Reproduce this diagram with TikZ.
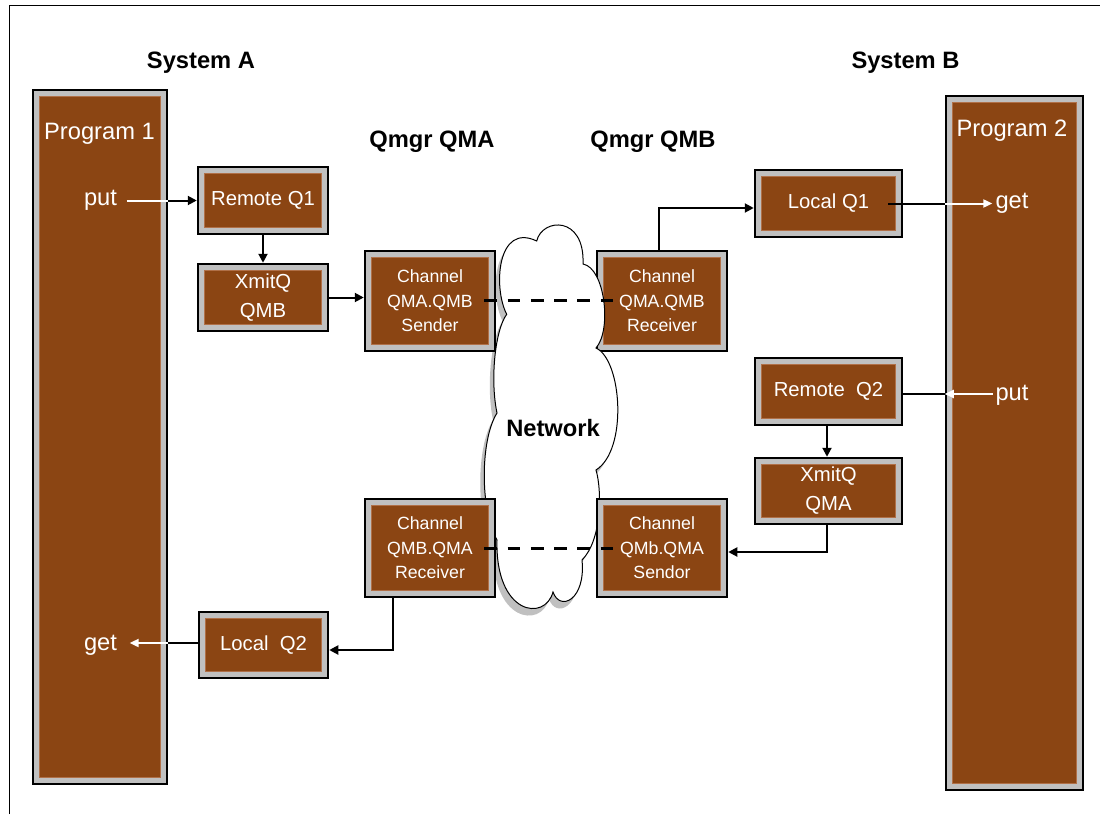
\documentclass[tikz,border=0pt]{standalone}
\usepackage{fontspec}
\setmainfont{Liberation Sans}
\usetikzlibrary{arrows.meta,calc}
\definecolor{qbrown}{RGB}{139,69,19}
\definecolor{qgray}{RGB}{192,192,192}
\definecolor{qedge}{RGB}{176,112,72}
\definecolor{qshadow}{RGB}{192,192,192}
\def\netcloudpath{(506.7,314.3) .. controls (493,288) and (497,222) .. (536.7,241)
 .. controls (542,218) and (585,215) .. (583,264)
 .. controls (605,268) and (612,330) .. (596,348)
 .. controls (622,360) and (628,450) .. (596,470)
 .. controls (602,490) and (602,540) .. (582,560)
 .. controls (586,600) and (560,612) .. (553,592)
 .. controls (545,622) and (495,615) .. (497,540)
 .. controls (480,510) and (480,440) .. (497,413)
 .. controls (490,380) and (495,330) .. (506.7,314.3) -- cycle}
\begin{document}
\begin{tikzpicture}[x=1pt,y=-1pt,
 qbox/.style={draw=black, line width=2.5pt, fill=qgray, inner sep=0pt, text=white, align=center,
   path picture={\draw[qedge, line width=0.8pt, fill=qbrown] ([shift={(6.8pt,6.8pt)}]path picture bounding box.south west) rectangle ([shift={(-6.8pt,-6.8pt)}]path picture bounding box.north east);}},
 lblbig/.style={font=\fontsize{23.7}{28}\selectfont, inner sep=0pt},
 lblbigb/.style={font=\fontsize{23.7}{28}\selectfont\bfseries, inner sep=0pt},
 lblmid/.style={font=\fontsize{20.3}{29}\selectfont},
 lblsmall/.style={font=\fontsize{17.7}{24.5}\selectfont},
 conn/.style={line width=2pt, black},
 arr/.style={conn, -{Triangle[length=9pt,width=9pt]}},
 wline/.style={line width=2pt, white},
 warr/.style={wline, -{Triangle[length=9pt,width=8pt]}},
 dashline/.style={line width=3pt, dash pattern=on 12.7pt off 10.6pt},
]
\useasboundingbox (0,0) rectangle (1100,814);
\fill[white] (0,0) rectangle (1100,814);
\draw[line width=1.2pt] (9.5,814) -- (9.5,5.5) -- (1100,5.5);

% titles
\node[lblbigb, anchor=base] (sysa) at (201,68.5) {System A};
\node[lblbigb, anchor=base] (sysb) at (905.5,68.5) {System B};
\node[lblbigb, anchor=base] (qma) at (432,147.5) {Qmgr QMA};
\node[lblbigb, anchor=base] (qmb) at (653,147.5) {Qmgr QMB};

% program boxes
\node[qbox, minimum width=134pt, minimum height=694pt] (prog1) at (100,437) {};
\node[qbox, minimum width=137pt, minimum height=694pt] (prog2) at (1014.5,443) {};
\node[lblbig, text=white, anchor=base] (p1t) at (99.5,139) {Program 1};
\node[lblbig, text=white, anchor=base] (put1) at (100.5,205) {put};
\node[lblbig, text=white, anchor=base] (get1) at (100.5,650) {get};
\node[lblbig, text=white, anchor=base] (p2t) at (1012,136) {Program 2};
\node[lblbig, text=white, anchor=base] (get2) at (1012,208) {get};
\node[lblbig, text=white, anchor=base] (put2) at (1012,400) {put};

% receiver drawn under the cloud
\node[qbox, lblsmall, minimum width=130pt, minimum height=100pt] (rcv1) at (662,301) {Channel\\QMA.QMB\\Receiver};

% cloud
\fill[qshadow, shift={(-4pt,-7pt)}] \netcloudpath;
\draw[fill=white, line width=1pt] \netcloudpath;
\node[lblbigb] (net) at (553,428) {Network};

% queue boxes
\node[qbox, lblmid, minimum width=130pt, minimum height=67pt] (rq1) at (263,200.5) {Remote Q1};
\node[qbox, lblmid, minimum width=130pt, minimum height=67pt] (xq1) at (263,297.5) {XmitQ\\QMB};
\node[qbox, lblsmall, minimum width=130pt, minimum height=100pt] (snd1) at (430,301) {Channel\\QMA.QMB\\Sender};
\node[qbox, lblmid, minimum width=147pt, minimum height=67pt] (lq1) at (828.5,203.5) {Local Q1};
\node[qbox, lblmid, minimum width=147pt, minimum height=67pt] (rq2) at (828.5,391.5) {Remote\ \ Q2};
\node[qbox, lblmid, minimum width=147pt, minimum height=66pt] (xq2) at (828.5,491) {XmitQ\\QMA};
\node[qbox, lblsmall, minimum width=130pt, minimum height=98pt] (snd2) at (662,548) {Channel\\QMb.QMA\\Sendor};
\node[qbox, lblsmall, minimum width=130pt, minimum height=98pt] (rcv2) at (430,548) {Channel\\QMB.QMA\\Receiver};
\node[qbox, lblmid, minimum width=129pt, minimum height=66pt] (lq2) at (263.5,645) {Local\ \ Q2};

% System A connectors
\coordinate (a0) at (prog1.east |- rq1.west);
\draw[wline] ([xshift=9.5pt]put1.east |- rq1.west) -- (a0);
\draw[arr] (a0) -- (rq1.west);
\draw[arr] (rq1.south) -- (xq1.north);
\draw[arr] (xq1.east) -- (xq1.east -| snd1.west);
\draw[arr] ([xshift=-37pt]rcv2.south) |- ([yshift=-5pt]lq2.east);
\coordinate (a1) at ([yshift=2pt]lq2.west -| prog1.east);
\draw[conn] ([yshift=2pt]lq2.west) -- (a1);
\draw[warr] (a1) -- ([xshift=12.5pt]get1.east |- a1);

% System B connectors
\draw[arr] ([xshift=-3pt]rcv1.north) |- ([yshift=-4.5pt]lq1.west);
\coordinate (b1) at (prog2.west |- lq1.east);
\draw[conn] ([xshift=-15pt]lq1.east) -- (b1);
\draw[warr] (b1) -- ([xshift=-3pt]get2.west |- b1);
\coordinate (b2) at ([yshift=-2.5pt]rq2.east -| prog2.west);
\draw[conn] (b2) -- ([yshift=-2.5pt]rq2.east);
\draw[warr] ([xshift=-2.5pt]put2.west |- b2) -- (b2);
\draw[arr] ([xshift=-1.5pt]rq2.south) -- ([xshift=-1.5pt]xq2.north);
\draw[arr] ([xshift=-1.5pt]xq2.south) |- ([yshift=-4pt]snd2.east);

% channels
\draw[dashline] ([xshift=-12pt,yshift=1pt]snd1.east) -- ([xshift=18pt,yshift=1pt]rcv1.west);
\draw[dashline] ([xshift=-12pt]rcv2.east) -- ([xshift=18pt]snd2.west);
\end{tikzpicture}
\end{document}
